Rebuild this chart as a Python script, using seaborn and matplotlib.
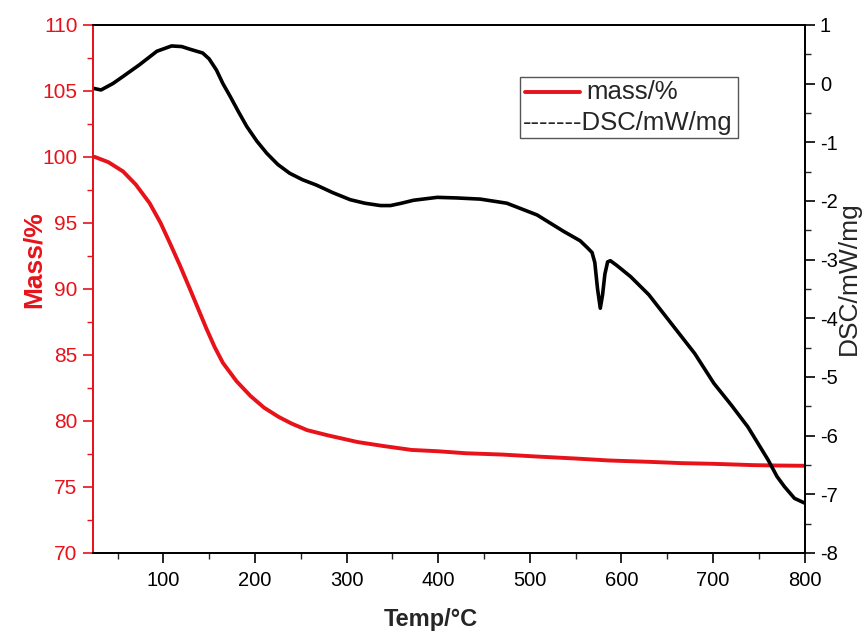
import matplotlib
matplotlib.use("Agg")
import matplotlib.pyplot as plt
import seaborn as sns
import pandas as pd
from matplotlib.ticker import MultipleLocator
from matplotlib.patches import Rectangle
from matplotlib.lines import Line2D

# ---------------- data ----------------
mass_temp = [25, 40, 56, 70, 85, 97, 107, 118, 129, 138, 147, 156, 165, 180, 195,
             210, 226, 240, 257, 280, 312, 340, 371, 400, 430, 470, 508, 550, 587,
             630, 666, 700, 744, 770, 800]
mass_pct = [100.0, 99.6, 98.9, 97.9, 96.5, 95.0, 93.5, 91.8, 90.0, 88.5, 87.0, 85.6,
            84.4, 83.0, 81.9, 81.0, 80.3, 79.8, 79.3, 78.9, 78.4, 78.1, 77.8, 77.7,
            77.55, 77.45, 77.3, 77.15, 77.0, 76.9, 76.8, 76.75, 76.65, 76.62, 76.6]

dsc_temp = [23, 32, 45, 56, 74, 93, 109, 120, 129, 143, 150, 158, 165, 173, 182, 191,
            202, 213, 225, 238, 252, 267, 285, 304, 320, 337, 348, 360, 373, 399, 420,
            446, 475, 508, 537, 555, 563, 568, 571, 574, 577, 579.5, 582, 585, 588,
            595, 610, 630, 657, 680, 701, 720, 738, 760, 770, 778, 789, 800]
dsc_val = [-0.08, -0.11, 0.0, 0.12, 0.32, 0.55, 0.64, 0.63, 0.585, 0.52, 0.42, 0.23,
           0.0, -0.22, -0.48, -0.73, -0.98, -1.19, -1.38, -1.53, -1.64, -1.73, -1.86,
           -1.98, -2.04, -2.08, -2.08, -2.04, -1.99, -1.94, -1.95, -1.97, -2.04, -2.24,
           -2.52, -2.68, -2.8, -2.88, -3.05, -3.5, -3.83, -3.6, -3.25, -3.04, -3.02,
           -3.1, -3.29, -3.6, -4.14, -4.6, -5.11, -5.48, -5.85, -6.41, -6.7, -6.87,
           -7.07, -7.15]

x_ticks = [100, 200, 300, 400, 500, 600, 700, 800]
left_ticks = [70, 75, 80, 85, 90, 95, 100, 105, 110]
right_ticks = [-8, -7, -6, -5, -4, -3, -2, -1, 0, 1]

mass_df = pd.DataFrame({"Temp": mass_temp, "Mass": mass_pct})
dsc_df = pd.DataFrame({"Temp": dsc_temp, "DSC": dsc_val})

# ---------------- style ----------------
sns.set_style("ticks")
plt.rcParams['font.family'] = ['Liberation Sans', 'DejaVu Sans']
plt.rcParams['axes.unicode_minus'] = False
NARROW = ['Liberation Sans Narrow', 'Liberation Sans', 'DejaVu Sans']

RED = "#e8121a"

fig = plt.figure(figsize=(8.67, 6.37), dpi=100)
ax = fig.add_axes([0.107, 0.132, 0.821, 0.829])
ax2 = ax.twinx()

sns.lineplot(data=mass_df, x="Temp", y="Mass", ax=ax, color=RED, lw=2.8,
             estimator=None, sort=False)
sns.lineplot(data=dsc_df, x="Temp", y="DSC", ax=ax2, color="black", lw=2.6,
             estimator=None, sort=False)

ax.set_xlim(23, 800)
ax.set_ylim(70, 110)
ax2.set_ylim(-8, 1)

ax.set_xticks(x_ticks)
ax.set_yticks(left_ticks)
ax2.set_yticks(right_ticks)
ax.xaxis.set_minor_locator(MultipleLocator(50))
ax.yaxis.set_minor_locator(MultipleLocator(2.5))
ax2.yaxis.set_minor_locator(MultipleLocator(0.5))

for a in (ax, ax2):
    for s in a.spines.values():
        s.set_visible(True)
        s.set_linewidth(1.3)
        s.set_color("black")
ax.spines['left'].set_color(RED)
ax2.spines['left'].set_color(RED)

ax.tick_params(axis='x', which='major', direction='out', length=7, width=1.2,
               labelsize=14.5, colors='black', pad=6, top=False)
ax.tick_params(axis='x', which='minor', direction='out', length=4, width=1.0, top=False)
ax.tick_params(axis='y', which='major', direction='out', length=7, width=1.2,
               labelsize=15, colors=RED, pad=4)
ax.tick_params(axis='y', which='minor', direction='out', length=4, width=1.0, colors=RED)
ax2.tick_params(axis='y', which='major', direction='out', length=7, width=1.2,
                labelsize=14.5, colors='black', pad=4)
ax2.tick_params(axis='y', which='minor', direction='out', length=4, width=1.0)

ax.set_xlabel("Temp/°C", fontsize=17, fontweight='bold')
ax.xaxis.set_label_coords(0.475, -0.105)
ax.set_ylabel("Mass/%", fontsize=19, fontweight='bold', color=RED)
ax.yaxis.set_label_coords(-0.066, 0.555)
ax2.set_ylabel("DSC/mW/mg", fontsize=19, family=NARROW)
ax2.yaxis.set_label_coords(1.045, 0.52)

# ---------------- legend (drawn as in the reference) ----------------
ax2.add_patch(Rectangle((0.60, 0.785), 0.307, 0.117, transform=ax2.transAxes,
                        facecolor='white', edgecolor='#555555', lw=1.0, zorder=5))
ax2.add_line(Line2D([0.607, 0.685], [0.872, 0.872], transform=ax2.transAxes,
                    color=RED, lw=2.8, zorder=6))
ax2.text(0.693, 0.872, "mass/%", transform=ax2.transAxes, fontsize=18.5,
         va='center', ha='left', zorder=6)
ax2.text(0.604, 0.815, "-------DSC/mW/mg", transform=ax2.transAxes, fontsize=18.5,
         va='center', ha='left', zorder=6)

fig.savefig("out.png", dpi=100)
